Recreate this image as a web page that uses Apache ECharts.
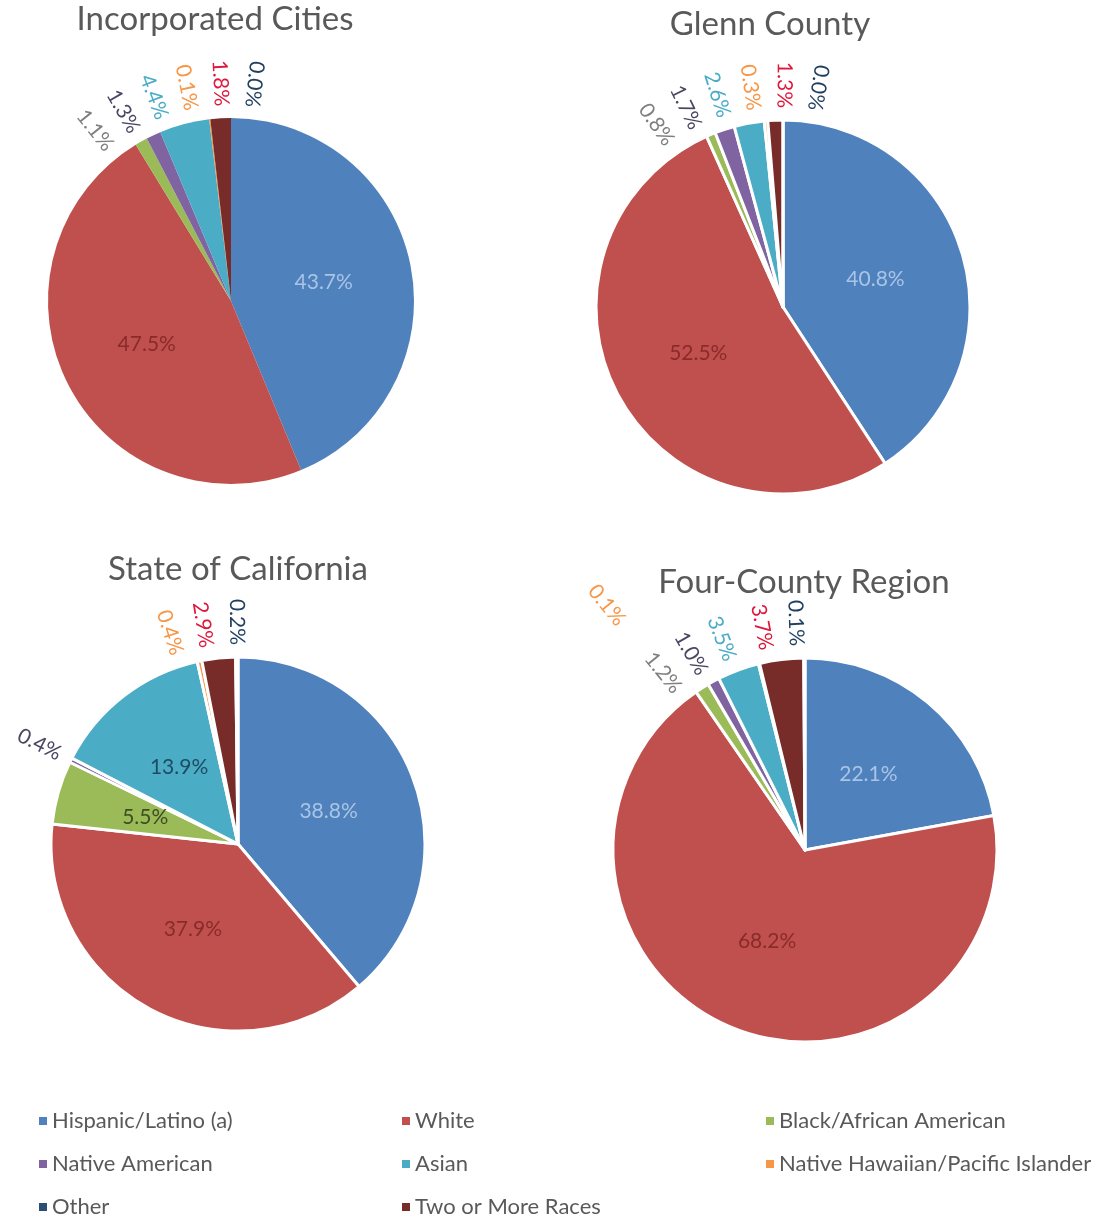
<!DOCTYPE html>
<html>
<head>
<meta charset="utf-8">
<script src="https://cdn.jsdelivr.net/npm/echarts@6/dist/echarts.min.js"></script>
<style>
html, body { margin: 0; padding: 0; background: #fff; }
#main { width: 1101px; height: 1218px; }
</style>
</head>
<body>
<div id="main"></div>
<script>
// categories in slice order (clockwise from 12 o'clock)
var groups = ['Hispanic/Latino (a)', 'White', 'Black/African American', 'Native American',
  'Asian', 'Native Hawaiian/Pacific Islander', 'Two or More Races', 'Other'];

// percent of population
var incorporatedCities = [43.7, 47.5, 1.1, 1.3, 4.4, 0.1, 1.8, 0.0];
var glennCounty = [40.8, 52.5, 0.8, 1.7, 2.6, 0.3, 1.3, 0.0];
var stateOfCalifornia = [38.8, 37.9, 5.5, 0.4, 13.9, 0.4, 2.9, 0.2];
var fourCountyRegion = [22.1, 68.2, 1.2, 1.0, 3.5, 0.1, 3.7, 0.1];

var titles = ['Incorporated Cities', 'Glenn County', 'State of California', 'Four-County Region'];

// legend order, read row by row (3 columns)
var legendOrder = ['Hispanic/Latino (a)', 'White', 'Black/African American',
  'Native American', 'Asian', 'Native Hawaiian/Pacific Islander',
  'Other', 'Two or More Races'];

var sliceColors = ['#4f81bd', '#c0504d', '#9bbb59', '#8064a2', '#4bacc6', '#f79646', '#772c2a', '#2c4d75'];
var outsideColors = ['#4f81bd', '#8a2b29', '#7f7f7f', '#4b4763', '#4bacc6', '#f79646', '#e0173c', '#1f3f5f'];
var insideColors = ['#a9c4e6', '#8a2b29', '#3f4d22', '#3f4763', '#1f4c63', '#f79646', '#772c2a', '#2c4d75'];

var pies = [
  { values: incorporatedCities, center: [231, 301], radius: 183, title: [215, 3], border: 0 },
  { values: glennCounty, center: [783, 307], radius: 187, title: [770, 8], border: 3 },
  { values: stateOfCalifornia, center: [238, 844], radius: 187, title: [238, 553], border: 3 },
  { values: fourCountyRegion, center: [805, 850], radius: 192, title: [804, 566], border: 3 }
];

// labels Excel pushed well away from their slice: [pie, slice, angle, extra distance]
var farLabels = [[3, 5, 321, 88]];

var font = 'Lato, "Noto Sans", sans-serif';

// push crowded small-slice labels apart (pool adjacent violators)
function spread(angles, gap) {
  var blocks = [];
  angles.forEach(function (a, i) {
    blocks.push({ sum: a - i * gap, n: 1 });
    while (blocks.length > 1) {
      var p = blocks[blocks.length - 2], q = blocks[blocks.length - 1];
      if (p.sum / p.n <= q.sum / q.n) break;
      blocks.pop();
      p.sum += q.sum; p.n += q.n;
    }
  });
  var out = [];
  blocks.forEach(function (b) {
    var shift = b.n > 1 ? -3 : 0;
    for (var k = 0; k < b.n; k++) out.push(b.sum / b.n + out.length * gap + shift);
  });
  return out;
}

function spot(p, deg, R) {
  var t = deg * Math.PI / 180;
  return { x: p.center[0] + R * Math.sin(t), y: p.center[1] - R * Math.cos(t), rotate: 270 - deg };
}

var spots = pies.map(function (p, pi) {
  var total = p.values.reduce(function (s, v) { return s + v; }, 0);
  var acc = 0, idx = [], mids = [], res = {};
  var far = {};
  farLabels.forEach(function (f) { if (f[0] === pi) far[f[1]] = f; });
  p.values.forEach(function (v, i) {
    var mid = (acc + v / 2) / total * 360;
    acc += v;
    if (v >= 5) return;
    if (far[i]) { res[i] = spot(p, far[i][2], p.radius + 12 + far[i][3]); return; }
    idx.push(i); mids.push(mid);
  });
  var gapDeg = 34 / (p.radius + 35) * 180 / Math.PI;
  var ang = spread(mids, gapDeg);
  idx.forEach(function (i, k) { res[i] = spot(p, ang[k], p.radius + 12); });
  return res;
});

var series = pies.map(function (p) {
  return {
    type: 'pie',
    center: p.center,
    radius: p.radius,
    startAngle: 90,
    avoidLabelOverlap: false,
    animation: false,
    itemStyle: { borderColor: '#fff', borderWidth: p.border },
    label: {
      position: 'inside',
      fontFamily: font,
      fontSize: 21,
      formatter: function (d) { return d.value.toFixed(1) + '%'; }
    },
    labelLine: { show: false },
    labelLayout: function (params) {
      var s = spots[params.seriesIndex][params.dataIndex];
      if (!s) return {};
      return { x: s.x, y: s.y, rotate: s.rotate, align: 'right', verticalAlign: 'middle' };
    },
    emphasis: { disabled: true },
    data: p.values.map(function (v, i) {
      var outside = v < 5;
      return {
        name: groups[i],
        value: v,
        itemStyle: { color: sliceColors[i] },
        label: {
          position: outside ? 'outside' : 'inside',
          color: outside ? outsideColors[i] : insideColors[i]
        }
      };
    })
  };
});

var legendX = [39, 402, 766];
var legendY = [1121, 1164, 1207];

var chart = echarts.init(document.getElementById('main'));
chart.setOption({
  backgroundColor: '#fff',
  title: pies.map(function (p, i) {
    return {
      text: titles[i],
      left: p.title[0],
      top: p.title[1],
      textAlign: 'center',
      padding: 0,
      textStyle: { fontFamily: font, fontSize: 33, fontWeight: 'normal', color: '#595959' }
    };
  }),
  legend: legendOrder.map(function (name, i) {
    return {
      data: [name],
      left: legendX[i % 3],
      top: legendY[Math.floor(i / 3)] - 11,
      padding: 0,
      itemWidth: 8,
      itemHeight: 8,
      icon: 'rect',
      selectedMode: false,
      textStyle: { fontFamily: font, fontSize: 22, color: '#595959' }
    };
  }),
  series: series
});
</script>
</body>
</html>
